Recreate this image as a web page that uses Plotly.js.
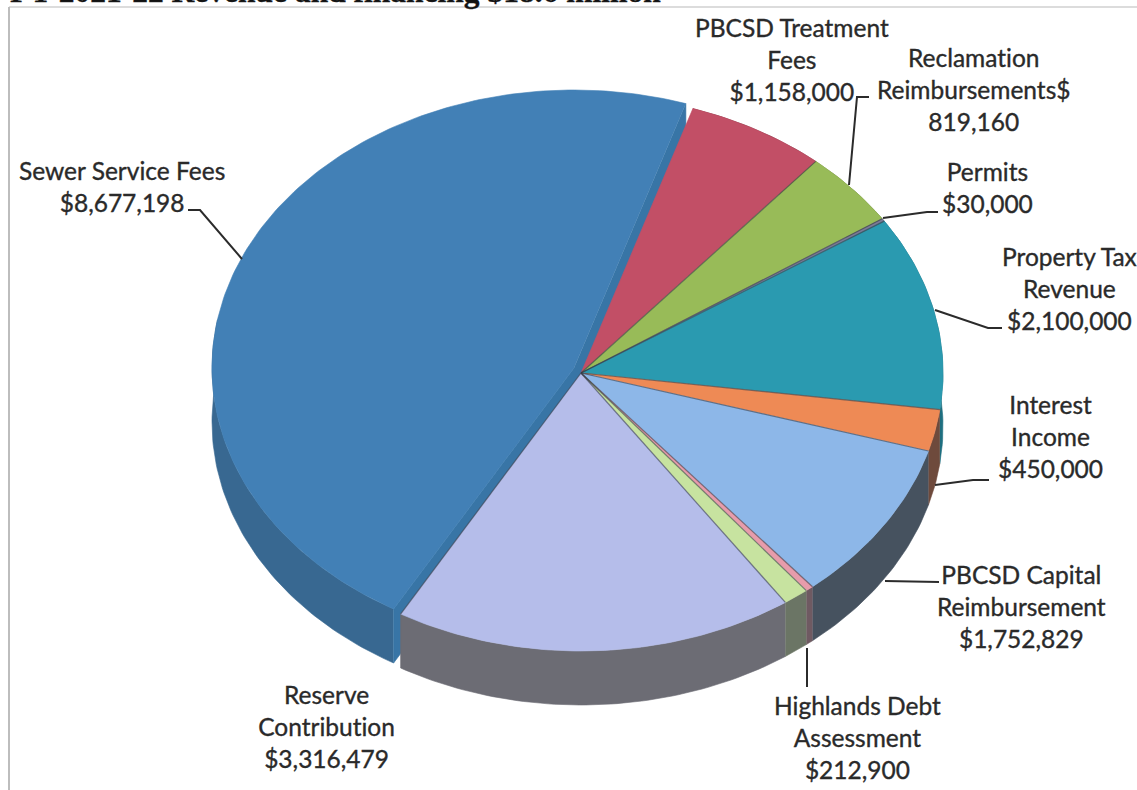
<!DOCTYPE html>
<html>
<head>
<meta charset="utf-8">
<script src="https://cdn.plot.ly/plotly-3.0.1.min.js"></script>
<style>
html,body{margin:0;padding:0;background:#fff;overflow:hidden}
#chart{width:1137px;height:790px}
.annotation text{font-variant-ligatures:none;font-feature-settings:"liga" 0;stroke:#2a2a2a;stroke-width:.35px}
</style>
</head>
<body>
<div id="chart"></div>
<script>
// Revenue sources, clockwise from the slice right after the exploded one
const categories = ["PBCSD Treatment Fees", "Reclamation Reimbursements", "Permits", "Property Tax Revenue",
  "Interest Income", "PBCSD Capital Reimbursement", "Other", "Highlands Debt Assessment",
  "Reserve Contribution", "Sewer Service Fees"];
const revenue = [1158000, 819160, 30000, 2100000, 450000, 1752829, 65000, 212900, 3316479, 8677198];
const topColors = ["#c24f66", "#98bb58", "#7b7b96", "#2a9ab0", "#ee8a55", "#8db7e8", "#e79cab", "#c7e3a0", "#b5bdea", "#4280b6"];
const wallColors = ["#7a3340", "#5f7638", "#55556a", "#1f6f80", "#6e4a3c", "#46525f", "#6f5a62", "#6b7565", "#6c6c74", "#386891"];
const labelHeads = ["PBCSD Treatment<br>Fees<br>$", "Reclamation<br>Reimbursements$<br>", "Permits<br>$", "Property Tax<br>Revenue<br>$",
  "Interest<br>Income<br>$", "PBCSD Capital<br>Reimbursement<br>$", "", "Highlands Debt<br>Assessment<br>$",
  "Reserve<br>Contribution<br>$", "Sewer Service Fees<br>$"];
const labelX = [792, 973, 987, 1069, 1050, 1021, null, 857, 326, 122];
const labelY = [59, 89, 187, 288, 436, 606, null, 737, 726, 186];

// Leader lines between labels and the pie rim
const leaders = [
  [[188, 210], [200, 210], [242, 259]],
  [[869, 97], [857, 97], [849, 185]],
  [[938, 212], [927, 212], [883, 218]],
  [[1002, 328], [988, 328], [935, 310]],
  [[989, 480], [973, 480], [935, 485]],
  [[939, 582], [885, 581]],
  [[807, 648], [807, 687]]
];

// Tilted-pie geometry in page-sized axis units
const cx = 581, cy = 373, rx = 362, ry = 278, depth = 54;
const startDeg = 18;
const explode = [-7, -5];

const total = revenue.reduce((a, b) => a + b, 0);
const rad = d => d * Math.PI / 180;
const rim = (deg, ox, oy) => [cx + ox + rx * Math.sin(rad(deg)), cy + oy - ry * Math.cos(rad(deg))];

function arc(from, to, ox, oy) {
  const n = Math.max(2, Math.ceil(Math.abs(to - from)));
  const pts = [];
  for (let i = 0; i <= n; i++) pts.push(rim(from + (to - from) * i / n, ox, oy));
  return pts;
}
function poly(pts, color) {
  return {
    type: "scatter", mode: "lines", fill: "toself", fillcolor: color,
    x: pts.map(p => p[0]), y: pts.map(p => p[1]),
    line: {color: color, width: 0.6}, hoverinfo: "skip", showlegend: false
  };
}

// Slice angles follow the revenue shares
const slices = [];
let angle = startDeg;
revenue.forEach((v, i) => {
  const sweep = v / total * 360;
  const last = i === revenue.length - 1;
  slices.push({a0: angle, a1: angle + sweep, ox: last ? explode[0] : 0, oy: last ? explode[1] : 0, i});
  angle += sweep;
});

const traces = [];
// The exploded slice sits behind the others, with its two cut faces showing
const big = slices[slices.length - 1];
const apex = [cx + big.ox, cy + big.oy];
traces.push(poly(arc(big.a0, 280, big.ox, big.oy).concat(arc(280, big.a0, big.ox, big.oy + depth)), wallColors[big.i]));
[big.a0, big.a1].forEach(a => {
  const c = rim(a, big.ox, big.oy);
  traces.push(poly([apex, c, [c[0], c[1] + depth], [apex[0], apex[1] + depth]], "#3875a6"));
});
traces.push(poly([apex].concat(arc(big.a0, big.a1, big.ox, big.oy)), topColors[big.i]));

// Remaining slices: outer walls first, then top faces
const rest = slices.slice(0, -1);
rest.forEach(s => traces.push(poly(arc(s.a0, s.a1, 0, 0).concat(arc(s.a1, s.a0, 0, depth)), wallColors[s.i])));
rest.forEach(s => traces.push(poly([[cx, cy]].concat(arc(s.a0, s.a1, 0, 0)), topColors[s.i])));

// Thin seams between the slices
const seamX = [], seamY = [];
rest.forEach(s => {
  const p = rim(s.a1, 0, 0);
  seamX.push(cx, p[0], null);
  seamY.push(cy, p[1], null);
});
traces.push({type: "scatter", mode: "lines", x: seamX, y: seamY,
  line: {color: "rgba(55,60,70,0.6)", width: 1.2}, hoverinfo: "skip", showlegend: false});

leaders.forEach(l => traces.push({
  type: "scatter", mode: "lines", x: l.map(p => p[0]), y: l.map(p => p[1]),
  line: {color: "#2b2b2b", width: 2}, hoverinfo: "skip", showlegend: false
}));

const annotations = [];
revenue.forEach((v, i) => {
  if (labelX[i] === null) return;
  annotations.push({
    xref: "x", yref: "y", x: labelX[i], y: labelY[i], xanchor: "center", yanchor: "middle",
    showarrow: false, align: "center",
    text: labelHeads[i] + v.toLocaleString("en-US"),
    font: {family: "Lato, Carlito, sans-serif", size: 24.5, color: "#2a2a2a"}
  });
});
// Heading, mostly above the top edge of the page
annotations.push({
  xref: "x", yref: "y", x: 8, y: 11, xanchor: "left", yanchor: "bottom", showarrow: false,
  text: "<b>FY 2021-22 Revenue and financing $18.6 million</b>",
  font: {family: "Liberation Serif, serif", size: 31.5, color: "#111"}
});

const layout = {
  width: 1137, height: 790,
  margin: {l: 0, r: 0, t: 0, b: 0},
  paper_bgcolor: "#fff", plot_bgcolor: "#fff",
  showlegend: false,
  xaxis: {range: [0, 1137], visible: false, fixedrange: true},
  yaxis: {range: [790, 0], visible: false, fixedrange: true},
  annotations: annotations,
  shapes: [
    {type: "line", xref: "x", yref: "y", x0: 9, x1: 1137, y0: 7, y1: 7, line: {color: "#dcdcdc", width: 2}, layer: "below"},
    {type: "line", xref: "x", yref: "y", x0: 9, x1: 9, y0: 7, y1: 790, line: {color: "#bdbdbd", width: 2}, layer: "below"}
  ]
};
Plotly.newPlot("chart", traces, layout, {displayModeBar: false, staticPlot: true});
</script>
</body>
</html>
